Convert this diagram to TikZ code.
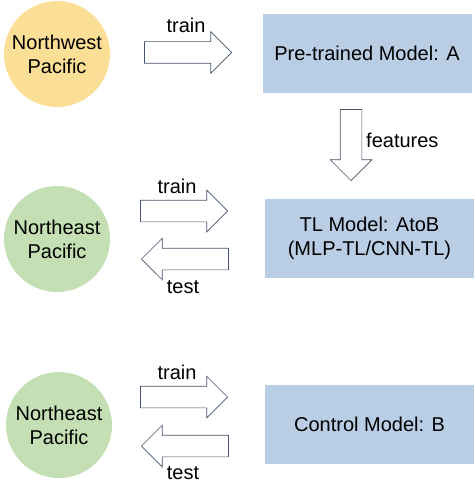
\documentclass[tikz,border=0pt]{standalone}
\usepackage{fontspec}
\setmainfont{Liberation Sans}
\usetikzlibrary{shapes.arrows}
\definecolor{seawest}{RGB}{251,223,150}
\definecolor{seaeast}{RGB}{197,223,180}
\definecolor{modelblue}{RGB}{185,205,229}
\definecolor{arrowline}{RGB}{68,84,106}
\tikzset{
  region/.style={circle, fill=#1, minimum size=106pt, inner sep=0pt, align=center},
  modelbox/.style={rectangle, fill=modelblue, minimum width=209pt, minimum height=79pt, inner sep=0pt, align=center},
  fatarrow/.style={single arrow, draw=arrowline, fill=white, line width=0.7pt, inner sep=0pt,
    minimum height=87pt, single arrow head extend=10pt, shape border rotate=#1, anchor=tip},
  lbl/.style={inner sep=0pt}
}
\newcommand{\shaftv}{\rule{0pt}{21pt}}
\newcommand{\shafth}{\rule{21pt}{0pt}}
\begin{document}
\begin{tikzpicture}[x=1pt, y=-1pt, font=\fontsize{20}{24}\selectfont] % transfer learning
          \useasboundingbox (0,0) rectangle (474,495);
          \node[region=seawest] (nwp) at (57,54) {Northwest\\Pacific};
          \node[modelbox] (modelA) at (367,53.5) {Pre-trained Model: A};
          \node[fatarrow=0] (trainA) at (232,52.5) {\shaftv};
          \node[lbl] at (186,25) {train};
          \node[fatarrow=270, minimum height=71pt] (feat) at (351,181) {\shafth};
          \node[lbl, anchor=west] at (366,140) {features};
          \node[region=seaeast] (nep) at (57,239) {Northeast\\Pacific};
          \node[modelbox] (modelAB) at (369.5,238.5) {TL Model: AtoB\\(MLP-TL/CNN-TL)};
          \node[fatarrow=0] (trainAB) at (228,211) {\shaftv};
          \node[lbl] at (177,186) {train};
          \node[fatarrow=180] (testAB) at (141,259) {\shaftv};
          \node[lbl] at (183,287) {test};
          \node[region=seaeast] (nepb) at (59,425) {Northeast\\Pacific};
          \node[modelbox] (modelB) at (369.5,424.5) {Control Model: B};
          \node[fatarrow=0] (trainB) at (228,397) {\shaftv};
          \node[lbl] at (177,372) {train};
          \node[fatarrow=180] (testB) at (141,446) {\shaftv};
          \node[lbl] at (183,473) {test};
        \end{tikzpicture}
\end{document}
